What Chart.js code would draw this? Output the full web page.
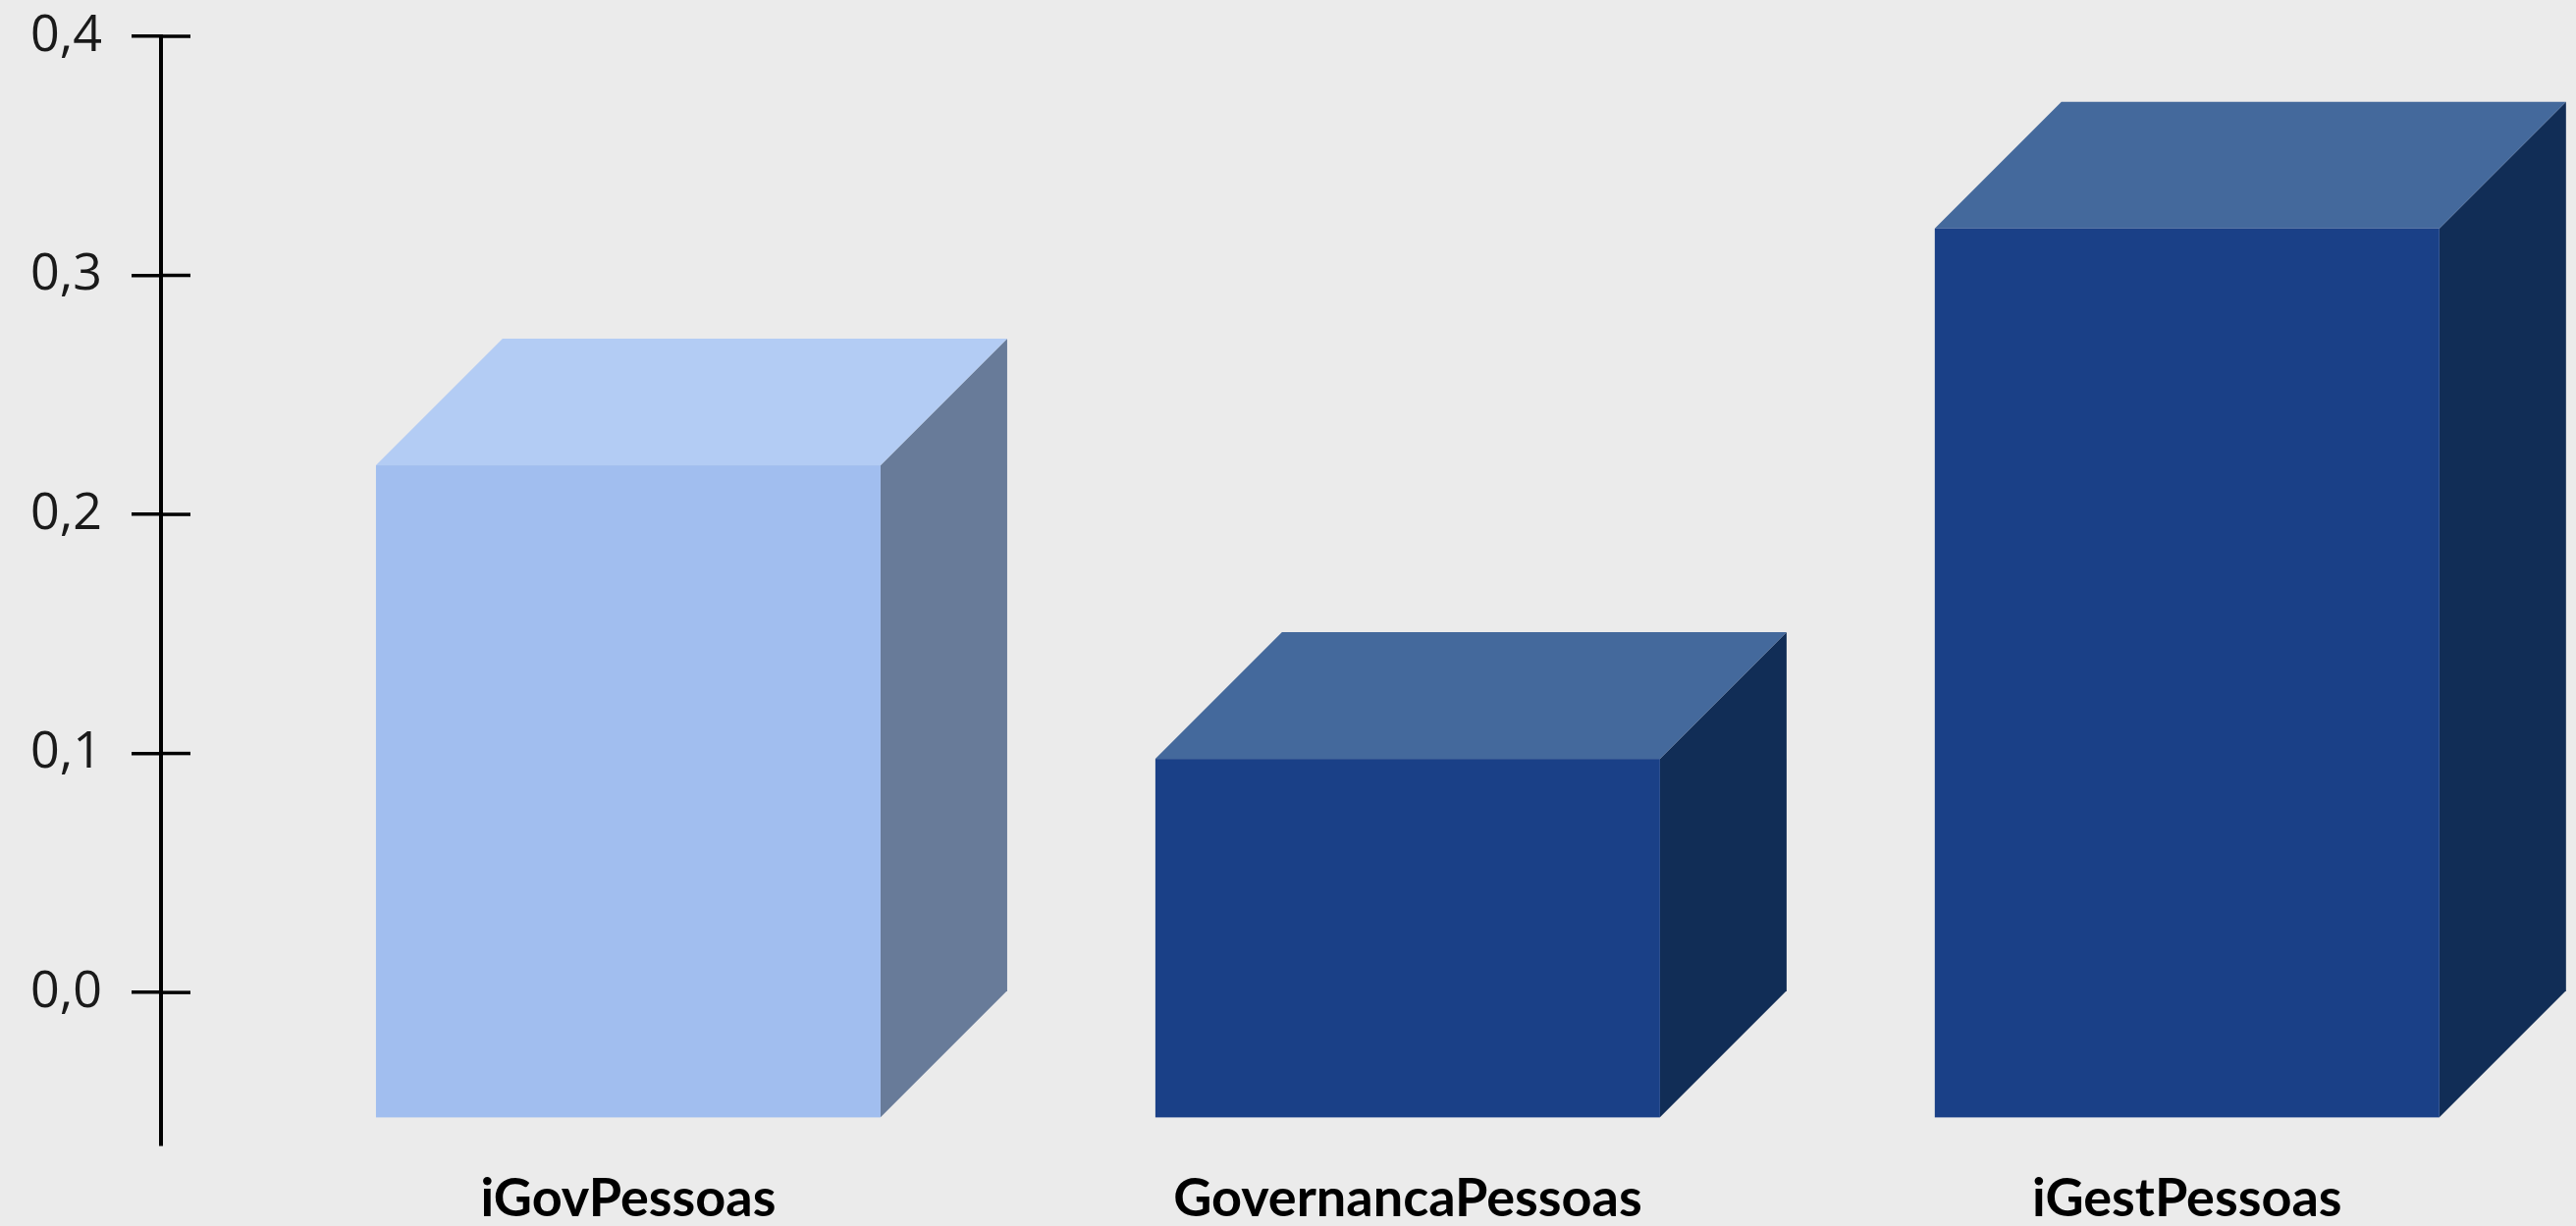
<!DOCTYPE html>
<html>
<head>
<meta charset="utf-8">
<script src="https://cdn.jsdelivr.net/npm/chart.js@4.4.1/dist/chart.umd.min.js"></script>
<style>
  html, body { margin: 0; padding: 0; background: #EBEBEB; }
  #wrap { width: 2624px; height: 1249px; position: relative; }
</style>
</head>
<body>
<div id="wrap"><canvas id="c" width="2624" height="1249"></canvas></div>
<script>
// ---- data ----
const categories = ['iGovPessoas', 'GovernancaPessoas', 'iGestPessoas'];
const values = [0.2735, 0.1507, 0.3726];
const yTickValues = [0.0, 0.1, 0.2, 0.3, 0.4];

// ---- styles ----
const frontColors = ['#A1BEEF', '#1A4087', '#1A4087'];
const topColors   = ['#B3CCF4', '#44699C', '#44699C'];
const sideColors  = ['#687B99', '#112D56', '#112D56'];
const DEPTH = 129;

const box3d = {
  id: 'box3d',
  afterDatasetsDraw(chart) {
    const ctx = chart.ctx;
    const meta = chart.getDatasetMeta(0);
    ctx.save();
    meta.data.forEach((el, i) => {
      const p = el.getProps(['x', 'y', 'base', 'width'], true);
      const l = p.x - p.width / 2, r = p.x + p.width / 2;
      const ft = p.y + DEPTH, fb = p.base + DEPTH;
      ctx.fillStyle = sideColors[i];
      ctx.beginPath();
      ctx.moveTo(r, ft); ctx.lineTo(r + DEPTH, p.y); ctx.lineTo(r + DEPTH, p.base); ctx.lineTo(r, fb);
      ctx.closePath(); ctx.fill();
      ctx.fillStyle = topColors[i];
      ctx.beginPath();
      ctx.moveTo(l, ft); ctx.lineTo(l + DEPTH, p.y); ctx.lineTo(r + DEPTH, p.y); ctx.lineTo(r, ft);
      ctx.closePath(); ctx.fill();
      ctx.fillStyle = frontColors[i];
      ctx.fillRect(l, ft, r - l, fb - ft);
    });
    ctx.restore();
  },
  afterDraw(chart) {
    const ctx = chart.ctx;
    const ys = chart.scales.y;
    const x0 = chart.chartArea.left;
    ctx.save();
    ctx.strokeStyle = '#000';
    ctx.lineWidth = 3.5;
    yTickValues.forEach(v => {
      const y = ys.getPixelForValue(v);
      ctx.beginPath(); ctx.moveTo(x0, y); ctx.lineTo(x0 + 30, y); ctx.stroke();
    });
    ctx.restore();
  }
};

new Chart(document.getElementById('c'), {
  type: 'bar',
  data: {
    datasets: [{
      data: categories.map((c, i) => ({ x: i, y: values[i] })),
      backgroundColor: 'rgba(0,0,0,0)',
      borderWidth: 0,
      barThickness: 514
    }]
  },
  options: {
    responsive: false,
    animation: false,
    events: [],
    layout: { padding: { top: 37, right: 0, left: 0, bottom: 0 } },
    plugins: { legend: { display: false }, tooltip: { enabled: false } },
    scales: {
      x: {
        type: 'linear',
        offset: false,
        min: -0.5995,
        max: 2.499,
        border: { display: false },
        grid: { display: false, offset: false },
        afterBuildTicks: s => { s.ticks = categories.map((c, i) => ({ value: i })); },
        afterFit: s => { s.height = 83; s.paddingLeft = 0; s.paddingRight = 0; },
        ticks: {
          autoSkip: false,
          maxRotation: 0,
          padding: 15,
          color: '#000',
          font: { family: 'Lato', weight: 'bold', size: 54 },
          callback: v => categories[v]
        }
      },
      y: {
        min: -0.0636,
        max: 0.4,
        border: { display: true, color: '#000', width: 4 },
        grid: { display: true, drawOnChartArea: false, drawTicks: true, tickLength: 30, color: '#000', lineWidth: 3.5 },
        afterBuildTicks: s => { s.ticks = yTickValues.map(v => ({ value: v })); },
        afterFit: s => { s.width = 164; s.paddingTop = 0; s.paddingBottom = 0; },
        ticks: {
          padding: 30,
          color: '#1a1a1a',
          font: { family: 'Open Sans', size: 52 },
          callback: v => v.toFixed(1).replace('.', ',')
        }
      }
    }
  },
  plugins: [box3d]
});
</script>
</body>
</html>
